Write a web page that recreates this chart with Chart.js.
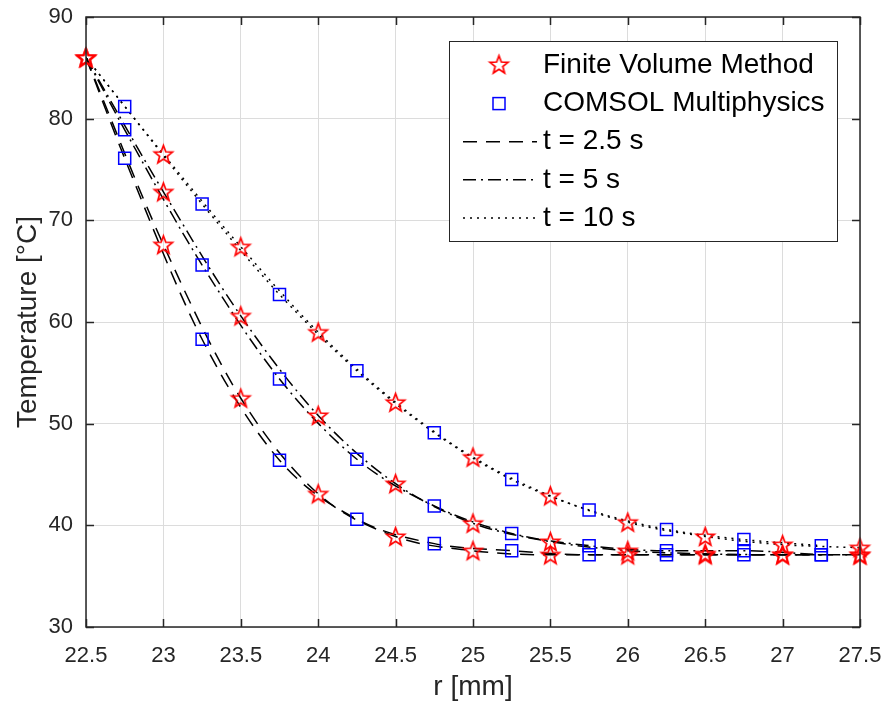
<!DOCTYPE html>
<html><head><meta charset="utf-8">
<script src="https://cdn.jsdelivr.net/npm/chart.js@4/dist/chart.umd.min.js"></script>
<style>html,body{margin:0;padding:0;background:#fff}canvas{display:block}</style>
</head><body>
<canvas id="c" width="883" height="704"></canvas>
<script>
// ---- data ----
const rFVM = [22.5, 23, 23.5, 24, 24.5, 25, 25.5, 26, 26.5, 27, 27.5];
const rCOMSOL = [22.75, 23.25, 23.75, 24.25, 24.75, 25.25, 25.75, 26.25, 26.75, 27.25];
const fvm_t2_5 = [86, 67.6, 52.5, 43.1, 38.9, 37.5, 37.1, 37.1, 37.1, 37.1, 37.1];
const fvm_t5   = [86, 72.8, 60.6, 50.8, 44.1, 40.2, 38.4, 37.5, 37.2, 37.1, 37.1];
const fvm_t10  = [86, 76.5, 67.4, 59.0, 52.1, 46.7, 42.9, 40.3, 38.9, 38.1, 37.8];
const comsol_t2_5 = [76.1, 58.3, 46.4, 40.6, 38.2, 37.5, 37.1, 37.1, 37.1, 37.1];
const comsol_t5   = [78.9, 65.6, 54.4, 46.5, 41.9, 39.2, 38.0, 37.5, 37.5, 37.1];
const comsol_t10  = [81.2, 71.6, 62.7, 55.2, 49.1, 44.5, 41.5, 39.6, 38.6, 38.0];
const xTicks = [22.5, 23, 23.5, 24, 24.5, 25, 25.5, 26, 26.5, 27, 27.5];
const yTicks = [30, 40, 50, 60, 70, 80, 90];
const seriesLabels = ['Finite Volume Method', 'COMSOL Multiphysics'];
const timeLabels = ['t = 2.5 s', 't = 5 s', 't = 10 s'];
const xTitle = 'r [mm]';
const yTitle = 'Temperature [°C]';

const FONT = '"Liberation Sans", Arial, Helvetica, sans-serif';
const dashes = [[14, 9], [13, 5, 2, 5], [2, 5]];

// star marker (pentagram outline)
function makeStar(R) {
  const c = document.createElement('canvas');
  const s = Math.ceil(R * 2 + 6);
  c.width = s; c.height = s;
  const g = c.getContext('2d');
  const cx = s / 2, cy = s / 2 + R * 0.08, r = R * 0.42;
  g.beginPath();
  for (let i = 0; i < 10; i++) {
    const ang = -Math.PI / 2 + i * Math.PI / 5;
    const rad = i % 2 === 0 ? R : r;
    const px = cx + rad * Math.cos(ang), py = cy + rad * Math.sin(ang);
    i === 0 ? g.moveTo(px, py) : g.lineTo(px, py);
  }
  g.closePath();
  g.strokeStyle = '#ff0000';
  g.lineWidth = 1.7;
  g.lineJoin = 'miter';
  g.stroke();
  return c;
}
const starImg = makeStar(9.5);

const pts = (xs, ys) => xs.map((x, i) => ({x, y: ys[i]}));
const fvmSets = [fvm_t2_5, fvm_t5, fvm_t10];
const comSets = [comsol_t2_5, comsol_t5, comsol_t10];

const datasets = [];
fvmSets.forEach(v => datasets.push({
  data: pts(rFVM, v), showLine: false, pointStyle: starImg, pointRadius: 9,
  clip: false, order: 1
}));
comSets.forEach(v => datasets.push({
  data: pts(rCOMSOL, v), showLine: false, pointStyle: 'rect', pointRadius: 8.5,
  borderColor: '#0000ff', backgroundColor: 'rgba(0,0,0,0)', pointBorderWidth: 1.5,
  clip: false, order: 1
}));
fvmSets.forEach((v, k) => {
  datasets.push({
    data: pts(rFVM, v), showLine: true, pointRadius: 0, borderColor: '#000',
    borderWidth: 1.5, borderDash: dashes[k], cubicInterpolationMode: 'monotone',
    fill: false, order: 2
  });
  datasets.push({
    data: [{x: rFVM[0], y: v[0]}].concat(pts(rCOMSOL, comSets[k])), showLine: true,
    pointRadius: 0, borderColor: '#000', borderWidth: 1.5, borderDash: dashes[k],
    cubicInterpolationMode: 'monotone', fill: false, order: 2
  });
});

const framePlugin = {
  id: 'frame',
  afterDatasetsDraw(chart) {
    const {ctx, chartArea: a, scales: {x, y}} = chart;
    ctx.save();
    ctx.strokeStyle = '#262626';
    ctx.lineWidth = 1.5;
    ctx.beginPath();
    x.ticks.forEach(t => {
      const px = Math.round(x.getPixelForValue(t.value)) + 0.5;
      ctx.moveTo(px, a.bottom); ctx.lineTo(px, a.bottom - 8);
      ctx.moveTo(px, a.top); ctx.lineTo(px, a.top + 8);
    });
    y.ticks.forEach(t => {
      const py = Math.round(y.getPixelForValue(t.value)) + 0.5;
      ctx.moveTo(a.left, py); ctx.lineTo(a.left + 8, py);
      ctx.moveTo(a.right, py); ctx.lineTo(a.right - 8, py);
    });
    ctx.stroke();
    ctx.strokeRect(a.left, a.top, a.right - a.left, a.bottom - a.top);
    ctx.restore();
  },
  afterDraw(chart) {
    const {ctx, chartArea: a} = chart;
    const lx = a.right - 411, ly = a.top + 24, lw = 388, lh = 200;
    ctx.save();
    ctx.fillStyle = '#ffffff';
    ctx.fillRect(lx, ly, lw, lh);
    ctx.strokeStyle = '#262626';
    ctx.lineWidth = 1;
    ctx.strokeRect(lx + 0.5, ly + 0.5, lw, lh);
    ctx.font = '28px ' + FONT;
    ctx.fillStyle = '#000';
    ctx.textBaseline = 'middle';
    ctx.textAlign = 'left';
    const rowY = i => ly + 24.5 + i * 38.1;
    ctx.drawImage(starImg, lx + 50 - starImg.width / 2, rowY(0) - starImg.height / 2 - 1);
    ctx.fillText(seriesLabels[0], lx + 94, rowY(0));
    ctx.strokeStyle = '#0000ff';
    ctx.lineWidth = 1.5;
    ctx.strokeRect(lx + 44, rowY(1) - 6, 12, 12);
    ctx.fillText(seriesLabels[1], lx + 94, rowY(1));
    timeLabels.forEach((lab, k) => {
      const yy = rowY(2 + k);
      ctx.strokeStyle = '#000';
      ctx.lineWidth = 1.5;
      ctx.setLineDash(dashes[k]);
      ctx.beginPath();
      ctx.moveTo(lx + 14, yy); ctx.lineTo(lx + 88, yy);
      ctx.stroke();
      ctx.setLineDash([]);
      ctx.fillText(lab, lx + 94, yy);
    });
    ctx.restore();
  }
};

new Chart(document.getElementById('c').getContext('2d'), {
  type: 'scatter',
  data: {datasets},
  options: {
    responsive: false,
    animation: false,
    devicePixelRatio: 1,
    layout: {padding: {left: 7, right: 23, top: 17, bottom: 0}},
    plugins: {legend: {display: false}, tooltip: {enabled: false}},
    scales: {
      x: {
        type: 'linear', min: 22.5, max: 27.5,
        afterBuildTicks: s => { s.ticks = xTicks.map(v => ({value: v})); },
        afterFit: s => { s.height = 77; s.paddingLeft = 0; s.paddingRight = 0; },
        grid: {color: '#dcdcdc', lineWidth: 1, drawTicks: false},
        border: {display: false},
        ticks: {font: {family: FONT, size: 22}, color: '#262626', padding: 16,
                maxRotation: 0, autoSkip: false, callback: v => String(v)},
        title: {display: true, text: xTitle, font: {family: FONT, size: 28, lineHeight: 0.9}, color: '#262626'}
      },
      y: {
        type: 'linear', min: 30, max: 90,
        afterBuildTicks: s => { s.ticks = yTicks.map(v => ({value: v})); },
        afterFit: s => { s.width = 79; s.paddingTop = 0; s.paddingBottom = 0; },
        grid: {color: '#dcdcdc', lineWidth: 1, drawTicks: false},
        border: {display: false},
        ticks: {font: {family: FONT, size: 22}, color: '#262626', padding: 13,
                callback: v => String(v)},
        title: {display: true, text: yTitle, font: {family: FONT, size: 28}, color: '#262626'}
      }
    }
  },
  plugins: [framePlugin]
});
</script>
</body></html>
